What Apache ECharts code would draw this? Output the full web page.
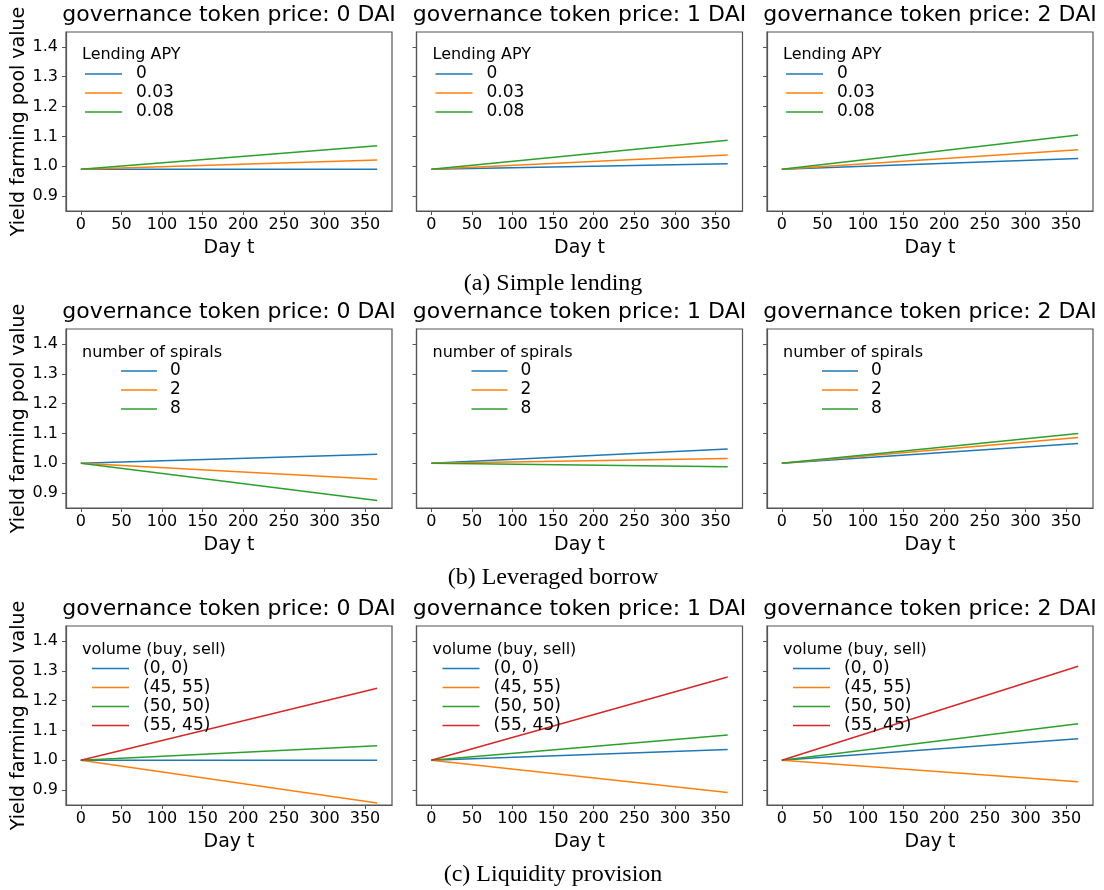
<!DOCTYPE html>
<html>
<head>
<meta charset="utf-8">
<script src="https://cdn.jsdelivr.net/npm/echarts@6/dist/echarts.min.js"></script>
<style>
html,body{margin:0;padding:0;background:#fff;}
#chart{width:1104px;height:890px;}
</style>
</head>
<body>
<div id="chart"></div>
<script>
// ---- data ----
const days = [0, 365];
const xTicks = [0, 50, 100, 150, 200, 250, 300, 350];
const yTicks = [0.9, 1.0, 1.1, 1.2, 1.3, 1.4];
const tokenPrices = ['0', '1', '2'];
const panelTitles = ['governance token price: 0 DAI', 'governance token price: 1 DAI', 'governance token price: 2 DAI'];
const captions = ['(a) Simple lending', '(b) Leveraged borrow', '(c) Liquidity provision'];
const legendTitles = ['Lending APY', 'number of spirals', 'volume (buy, sell)'];

const lendingNames = ['0', '0.03', '0.08'];
const spiralNames = ['0', '2', '8'];
const volumeNames = ['(0, 0)', '(45, 55)', '(50, 50)', '(55, 45)'];

// start / end values per panel (price 0, 1, 2)
const lendingStart = [0.99, 0.99, 0.99];
const lendingEnd0 = [0.99, 1.021, 1.069];
const lendingEnd1 = [1.008, 1.038, 1.087];
const lendingEnd2 = [1.026, 1.055, 1.105];

const spiralStart = [1.0, 1.0, 1.0];
const spiralEnd0 = [1.030, 0.946, 0.875];
const spiralEnd1 = [1.048, 1.016, 0.988];
const spiralEnd2 = [1.066, 1.086, 1.100];

const volumeStart = [1.0, 1.0, 1.0, 1.0];
const volumeEnd0 = [1.0, 0.857, 1.049, 1.241];
const volumeEnd1 = [1.036, 0.892, 1.085, 1.279];
const volumeEnd2 = [1.072, 0.928, 1.122, 1.315];

const colors = ['#1f77b4', '#ff7f0e', '#2ca02c', '#d62728'];

// ---- layout ----
const FONT = 'DejaVu Sans';
const colLeft = [66, 416.5, 767];
const gridW = 326;
const rowTop = [32, 329, 626];
const gridH = 179;
const captionY = [284, 578, 875];

const rows = [
  {names: lendingNames, start: lendingStart, ends: [lendingEnd0, lendingEnd1, lendingEnd2],
   legDx: 19, iconW: 37, txtPad: 9, legTitleY: 56, legTop: 64.5},
  {names: spiralNames, start: spiralStart, ends: [spiralEnd0, spiralEnd1, spiralEnd2],
   legDx: 55, iconW: 36, txtPad: 8, legTitleY: 354, legTop: 361.5},
  {names: volumeNames, start: volumeStart, ends: [volumeEnd0, volumeEnd1, volumeEnd2],
   legDx: 26, iconW: 37, txtPad: 9, legTitleY: 651, legTop: 659}
];

const grid = [], xAxis = [], yAxis = [], series = [], legend = [], graphic = [];
let gi = 0;
rows.forEach((row, r) => {
  for (let c = 0; c < 3; c++) {
    const left = colLeft[c], top = rowTop[r];
    grid.push({left: left, top: top, width: gridW, height: gridH, show: true,
      borderColor: '#555', borderWidth: 1.2, backgroundColor: '#fff'});
    xAxis.push({type: 'value', gridIndex: gi, min: -18.25, max: 383.25,
      splitLine: {show: false},
      axisLine: {show: true, onZero: false, lineStyle: {color: '#555', width: 1.2}},
      axisTick: {show: true, inside: false, length: 4, lineStyle: {color: '#555'}, customValues: xTicks},
      axisLabel: {show: true, margin: 6, fontSize: 16, fontFamily: FONT, color: '#000', customValues: xTicks,
        formatter: v => String(v)},
      name: 'Day t', nameLocation: 'middle', nameGap: 28,
      nameTextStyle: {fontSize: 19, fontFamily: FONT, color: '#000'}});
    yAxis.push({type: 'value', gridIndex: gi, min: 0.85, max: 1.45,
      splitLine: {show: false},
      axisLine: {show: true, onZero: false, lineStyle: {color: '#555', width: 1.2}},
      axisTick: {show: true, inside: false, length: 4, lineStyle: {color: '#555'}, customValues: yTicks},
      axisLabel: {show: c === 0, margin: 8, fontSize: 16, fontFamily: FONT, color: '#000', customValues: yTicks,
        formatter: v => v.toFixed(1)},
      name: c === 0 ? 'Yield farming pool value' : '', nameLocation: 'middle', nameGap: 37,
      nameTextStyle: {fontSize: 19, fontFamily: FONT, color: '#000'}});
    row.names.forEach((nm, k) => {
      series.push({type: 'line', name: nm, xAxisIndex: gi, yAxisIndex: gi,
        data: days.map((d, i) => [d, i === 0 ? row.start[k] : row.ends[c][k]]),
        showSymbol: false, symbol: 'none', silent: true,
        color: colors[k], lineStyle: {color: colors[k], width: 1.5}});
    });
    legend.push({orient: 'vertical', left: left + row.legDx, top: row.legTop, padding: 0,
      itemGap: 0, icon: 'rect', itemWidth: row.iconW, itemHeight: 1.5, selectedMode: false,
      data: row.names,
      textStyle: {fontSize: 17, fontFamily: FONT, color: '#000', lineHeight: 19, padding: [0, 0, 0, row.txtPad]}});
    graphic.push({type: 'text', left: left + 16, top: row.legTitleY - 9,
      style: {text: legendTitles[r], font: '16px "DejaVu Sans"', fill: '#000'}});
    graphic.push({type: 'text', x: left + gridW / 2, y: top - 6,
      style: {text: panelTitles[c], font: '22px "DejaVu Sans"', fill: '#000', textAlign: 'center', textVerticalAlign: 'bottom'}});
    gi++;
  }
  graphic.push({type: 'text', x: 553, y: captionY[r],
    style: {text: captions[r], font: '24px "Liberation Serif"', fill: '#000', textAlign: 'center', textVerticalAlign: 'middle'}});
});

const chart = echarts.init(document.getElementById('chart'), null, {renderer: 'canvas'});
chart.setOption({animation: false, backgroundColor: '#fff', grid, xAxis, yAxis, series, legend, graphic});
</script>
</body>
</html>
